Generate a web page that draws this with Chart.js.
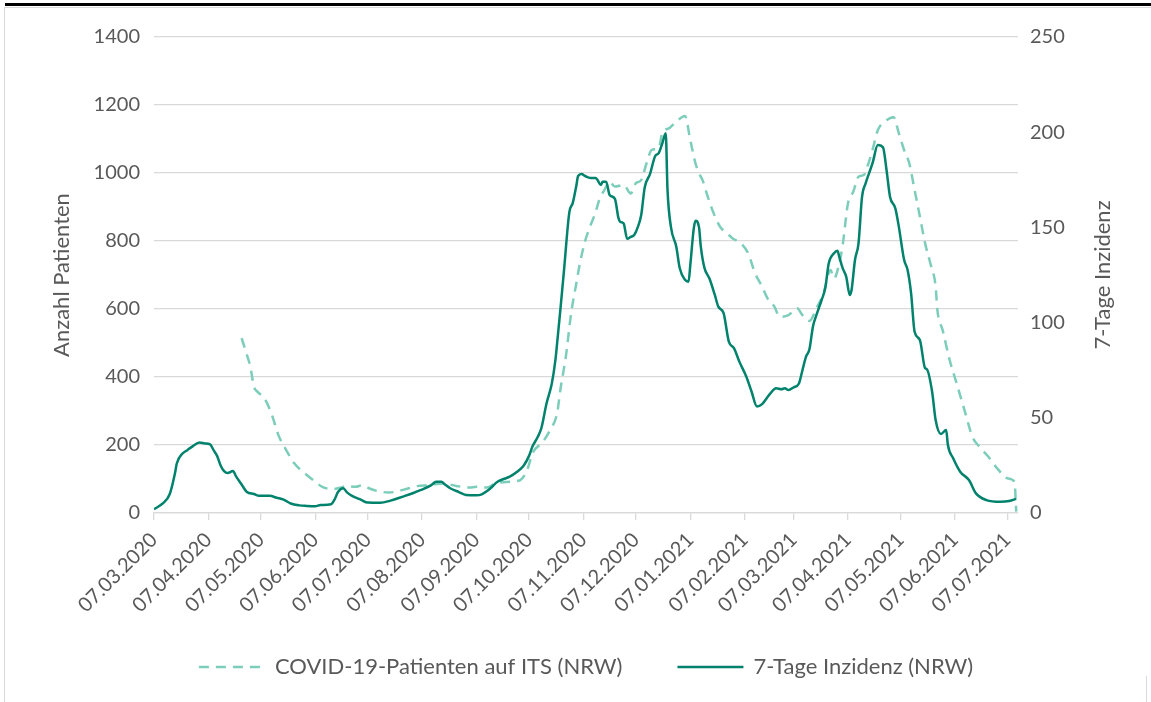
<!DOCTYPE html>
<html>
<head>
<meta charset="utf-8">
<script src="https://cdn.jsdelivr.net/npm/chart.js@4.4.1/dist/chart.umd.min.js"></script>
<style>
  html, body { margin: 0; padding: 0; background: #fff; }
  #wrap { position: relative; width: 1151px; height: 702px; overflow: hidden; }
  #topbar { position: absolute; left: 5px; right: 0; top: 3px; height: 3px; background: #000; }
  #frame { position: absolute; left: 4px; top: 7px; right: 0; height: 720px; border-left: 1px solid #d9d9d9; border-top: 1px solid #d9d9d9; }
  #edge { position: absolute; left: 1146px; top: 676px; width: 1px; height: 30px; background: #d9d9d9; }
  canvas { position: absolute; left: 0; top: 0; }
</style>
</head>
<body>
<div id="wrap">
  <div id="frame"></div>
  <div id="topbar"></div>
  <div id="edge"></div>
  <canvas id="chart" width="1151" height="702"></canvas>
</div>
<script>
// days are counted from 07.03.2020
const tickLabels = ['07.03.2020', '07.04.2020', '07.05.2020', '07.06.2020', '07.07.2020', '07.08.2020',
  '07.09.2020', '07.10.2020', '07.11.2020', '07.12.2020', '07.01.2021', '07.02.2021', '07.03.2021',
  '07.04.2021', '07.05.2021', '07.06.2021', '07.07.2021'];

// COVID-19-Patienten auf ITS (NRW), left axis
const itsDays = [50, 53, 55, 57, 59, 63, 67, 71, 76, 80, 86, 92, 96, 102, 106, 110, 115, 119, 123, 127,
  129, 134, 142, 150, 157, 165, 173, 180, 184, 190, 195, 203, 209, 213, 216, 222, 226, 230, 232, 235,
  238, 241, 243, 246, 249, 252, 254, 257, 260, 263, 268, 272, 275, 278, 281, 284, 288, 290, 294, 298,
  303, 306, 309, 311, 313, 316, 319, 323, 327, 330, 335, 339, 343, 347, 350, 354, 357, 362, 367, 370,
  374, 378, 382, 386, 388, 391, 393, 396, 399, 402, 405, 407, 410, 413, 417, 422, 425, 428, 431, 434,
  437, 440, 443, 446, 447, 450, 454, 458, 463, 467, 471, 476, 482, 487, 491, 492];
const itsValues = [514, 465, 430, 372, 357, 337, 293, 229, 180, 146, 117, 92, 77, 70, 74, 79, 77, 82, 72, 65,
  63, 60, 68, 79, 82, 87, 79, 75, 77, 75, 87, 92, 97, 127, 176, 210, 244, 293, 367, 460,
  587, 676, 734, 800, 845, 885, 920, 950, 974, 960, 965, 940, 970, 979, 1028, 1068, 1073, 1117, 1132, 1151,
  1168, 1097, 1028, 999, 979, 930, 886, 842, 823, 808, 793, 764, 705, 666, 632, 607, 577, 582, 602, 582,
  565, 602, 646, 715, 690, 734, 790, 911, 945, 989, 994, 1018, 1068, 1126, 1151, 1164, 1117, 1068, 1028, 950,
  872, 793, 734, 666, 597, 538, 450, 381, 293, 224, 195, 166, 126, 102, 92, 4];

// 7-Tage Inzidenz (NRW), right axis
const incDays = [0, 5, 9, 12, 13, 16, 19, 22, 26, 29, 32, 34, 36, 38, 40, 42, 45, 47, 50, 53,
  57, 60, 66, 70, 74, 78, 83, 87, 92, 95, 101, 103, 105, 108, 110, 113, 118, 122, 129, 135,
  142, 148, 152, 158, 161, 164, 166, 169, 174, 178, 184, 187, 190, 192, 196, 200, 203, 207, 211, 214,
  216, 219, 221, 224, 227, 229, 230, 232, 234, 237, 239, 241, 242, 244, 246, 249, 252, 253, 255, 256,
  258, 260, 263, 265, 266, 268, 270, 272, 274, 276, 278, 280, 283, 286, 288, 290, 292, 293, 295, 298,
  300, 303, 305, 306, 308, 309, 311, 312, 314, 317, 320, 322, 325, 328, 331, 334, 338, 341, 344, 347,
  351, 355, 358, 360, 362, 365, 368, 370, 372, 374, 376, 378, 381, 383, 385, 388, 390, 391, 393, 395,
  397, 398, 400, 402, 404, 406, 408, 410, 413, 416, 418, 420, 423, 425, 428, 430, 432, 434, 437, 440,
  441, 444, 446, 449, 452, 453, 456, 460, 465, 469, 475, 483, 488, 492];
const incValues = [2, 5, 10, 21, 26, 31, 33, 35, 37, 36.5, 36, 33, 30, 25, 22, 21, 22, 19, 15, 11,
  10, 9, 9, 8, 7, 5, 4, 3.7, 3.5, 4.2, 4.6, 7, 11, 13, 11, 9, 7, 5.5, 5.4, 6.5,
  8.6, 10.5, 12, 14.5, 16.4, 16.4, 15, 13, 11, 9.5, 9.3, 9.8, 11.5, 13, 16.4, 18, 19.1, 21.5, 25, 30,
  35, 40, 44.5, 57.6, 68, 80, 89, 108, 128, 158, 163, 172, 177, 178, 177, 176, 176, 175, 172.3, 174,
  174, 167, 165, 155, 153, 152, 144, 145, 146, 150, 156.5, 171, 178, 187.5, 189, 194, 199.5, 170, 150, 140,
  128.5, 122.5, 121.5, 130, 149.5, 153.5, 150, 140, 129, 123, 114.5, 108.4, 105, 90, 86.5, 79.5, 71.6, 63.7, 56, 57.2,
  62, 65.5, 65, 65.5, 64.6, 66, 68, 75, 82, 86, 98, 104, 112, 118, 131, 136.4, 137.8, 134.6, 128.5, 124,
  114.5, 117, 133, 141.6, 166, 173, 178.4, 183.7, 193.3, 192, 180, 166, 160, 150.4, 133, 127.6, 115.4, 95.2, 90.9, 76,
  75.5, 63.7, 48.8, 41.5, 43.6, 35.7, 28.7, 21.7, 17.3, 10.3, 6.8, 5.9, 6.3, 7.4];

const textColor = '#595959';
const gridColor = '#d9d9d9';
const fontFamily = 'Lato';
const tickSize = 20;
const textSize = 22;
const itsColor = '#7ccdba';
const incColor = '#00826c';

function dayOf(label) {
  const [d, m, y] = label.split('.').map(Number);
  return Math.round((Date.UTC(y, m - 1, d) - Date.UTC(2020, 2, 7)) / 86400000);
}
const tickDays = tickLabels.map(dayOf);

const toPoints = (days, values) => days.map((d, i) => ({ x: d, y: values[i] }));

const decor = {
  id: 'decor',
  afterDraw(chart) {
    const { ctx, chartArea } = chart;
    ctx.save();
    ctx.fillStyle = textColor;
    ctx.font = textSize + 'px ' + fontFamily;
    ctx.textBaseline = 'middle';

    // axis titles, both reading upwards
    const midY = (chartArea.top + chartArea.bottom) / 2;
    [[62, 'Anzahl Patienten'], [1103, '7-Tage Inzidenz']].forEach(([x, t]) => {
      ctx.save();
      ctx.translate(x, midY);
      ctx.rotate(-Math.PI / 2);
      ctx.textAlign = 'center';
      ctx.fillText(t, 0, 0);
      ctx.restore();
    });

    // legend
    const items = [
      { text: 'COVID-19-Patienten auf ITS (NRW)', color: itsColor, dash: [10, 7] },
      { text: '7-Tage Inzidenz (NRW)', color: incColor, dash: [] }
    ];
    const lineLen = 66, gap = 10, spacing = 55, y = 667;
    const widths = items.map(it => ctx.measureText(it.text).width);
    const total = items.length * (lineLen + gap) + widths[0] + widths[1] + spacing;
    let x = (chartArea.left + chartArea.right) / 2 - total / 2;
    ctx.textAlign = 'left';
    items.forEach((it, i) => {
      ctx.save();
      ctx.strokeStyle = it.color;
      ctx.lineWidth = 2.5;
      ctx.setLineDash(it.dash);
      ctx.beginPath();
      ctx.moveTo(x, y);
      ctx.lineTo(x + lineLen, y);
      ctx.stroke();
      ctx.restore();
      ctx.fillText(it.text, x + lineLen + gap, y);
      x += lineLen + gap + widths[i] + spacing;
    });
    ctx.restore();
  }
};

new Chart(document.getElementById('chart'), {
  type: 'line',
  data: {
    datasets: [
      {
        label: 'COVID-19-Patienten auf ITS (NRW)',
        data: toPoints(itsDays, itsValues),
        yAxisID: 'y',
        borderColor: itsColor,
        borderWidth: 2.5,
        borderDash: [10, 7],
        pointRadius: 0,
        cubicInterpolationMode: 'monotone',
        order: 1
      },
      {
        label: '7-Tage Inzidenz (NRW)',
        data: toPoints(incDays, incValues),
        yAxisID: 'y1',
        borderColor: incColor,
        borderWidth: 2.5,
        pointRadius: 0,
        cubicInterpolationMode: 'monotone',
        order: 0
      }
    ]
  },
  options: {
    responsive: false,
    animation: false,
    layout: { padding: { top: 37, left: 0, right: 0, bottom: 0 } },
    plugins: {
      legend: { display: false },
      tooltip: { enabled: false }
    },
    scales: {
      x: {
        type: 'linear',
        min: 0,
        max: 493,
        afterBuildTicks: s => { s.ticks = tickDays.map(v => ({ value: v })); },
        afterFit: s => { s.height = 189; },
        ticks: {
          autoSkip: false,
          maxRotation: 45,
          minRotation: 45,
          padding: 8,
          color: textColor,
          font: { family: fontFamily, size: tickSize },
          callback: v => tickLabels[tickDays.indexOf(v)]
        },
        grid: { drawOnChartArea: false, tickLength: 7, color: gridColor, lineWidth: 1.3 },
        border: { color: gridColor, width: 1.3 }
      },
      y: {
        position: 'left',
        min: 0,
        max: 1400,
        afterFit: s => { s.width = 154; },
        ticks: { stepSize: 200, padding: 14, color: textColor, font: { family: fontFamily, size: tickSize }, callback: v => String(v) },
        grid: { color: gridColor, lineWidth: 1.3, drawTicks: false },
        border: { display: false }
      },
      y1: {
        position: 'right',
        min: 0,
        max: 250,
        afterFit: s => { s.width = 133; },
        ticks: { stepSize: 50, padding: 12, color: textColor, font: { family: fontFamily, size: tickSize }, callback: v => String(v) },
        grid: { display: false, drawTicks: false },
        border: { display: false }
      }
    }
  },
  plugins: [decor]
});
</script>
</body>
</html>
